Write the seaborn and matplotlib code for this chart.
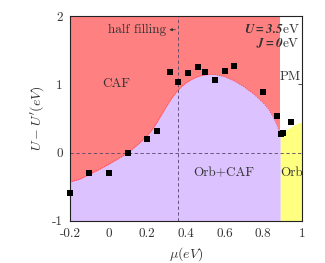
import numpy as np
import pandas as pd
import matplotlib
matplotlib.use("Agg")
import matplotlib.pyplot as plt
import seaborn as sns

# 데이터
mu_pts = [-0.2, -0.1, 0.0, 0.10, 0.20, 0.25, 0.32, 0.36, 0.41, 0.46, 0.50, 0.55, 0.60, 0.65, 0.80, 0.87, 0.89, 0.90, 0.945]
du_pts = [-0.59, -0.30, -0.30, -0.01, 0.20, 0.31, 1.18, 1.04, 1.165, 1.26, 1.18, 1.07, 1.19, 1.27, 0.89, 0.54, 0.27, 0.29, 0.45]

# CAF / Orb+CAF 경계
bound_x = [-0.2, -0.15, -0.1, -0.05, 0.0, 0.05, 0.1, 0.15, 0.175, 0.2, 0.225, 0.25, 0.275, 0.3, 0.325,
           0.35, 0.375, 0.4, 0.425, 0.45, 0.475, 0.5, 0.525, 0.55, 0.6, 0.65, 0.7, 0.75,
           0.8, 0.825, 0.85, 0.87, 0.888]
bound_y = [-0.43, -0.39, -0.32, -0.25, -0.17, -0.09, 0.0, 0.115, 0.18, 0.25, 0.335, 0.44, 0.56, 0.68, 0.79,
           0.885, 0.96, 1.02, 1.065, 1.10, 1.125, 1.14, 1.147, 1.145, 1.115, 1.05, 0.965, 0.86,
           0.73, 0.645, 0.53, 0.41, 0.27]

# Orb / PM 경계
orb_x = [0.888, 0.92, 0.945, 0.97, 1.0]
orb_y = [0.26, 0.33, 0.38, 0.42, 0.45]

half_filling = 0.36

sns.set_style("white")
plt.rcParams['font.family'] = ['cmr10', 'DejaVu Serif']
plt.rcParams['mathtext.fontset'] = 'cm'
plt.rcParams['axes.unicode_minus'] = False

fig = plt.figure(figsize=(3.25, 2.63), dpi=100)
ax = fig.add_axes([0.215, 0.160, 0.714, 0.779])

red = '#ff8080'
purple = '#dcc2ff'
yellow = '#ffff80'

ax.fill_between([-0.2, bound_x[-1]], -1, 2, color=red, lw=0)
ax.fill_between(bound_x, -1, bound_y, color=purple, lw=0)
ax.plot(bound_x, bound_y, color='#ff3355', lw=0.6, ls=':')
ax.fill_between(orb_x, -1, orb_y, color=yellow, lw=0)

ax.axhline(0, color='#554466', lw=0.6, ls=(0, (4, 3)))
ax.axvline(half_filling, color='#554466', lw=0.6, ls=(0, (4, 3)))

df = pd.DataFrame({'mu': mu_pts, 'du': du_pts})
sns.scatterplot(data=df, x='mu', y='du', marker='s', s=16, color='black', edgecolor='black', linewidth=0, ax=ax, clip_on=False, zorder=5)

tc = '#333333'
fs = 9.5
ax.annotate('', xy=(0.30, 1.80), xytext=(half_filling, 1.80),
            arrowprops=dict(arrowstyle='-|>', color=tc, lw=0.6, mutation_scale=4))
ax.text(0.30, 1.80, 'half filling', ha='right', va='center', fontsize=fs, color=tc)
ax.text(0.99, 1.80, r'$\mathbfit{U=3.5}\mathrm{eV}$', ha='right', va='center', fontsize=fs, color=tc)
ax.text(0.99, 1.60, r'$\mathbfit{J=0}\mathrm{eV}$', ha='right', va='center', fontsize=fs, color=tc)
ax.text(0.04, 1.01, 'CAF', ha='center', va='center', fontsize=fs, color=tc)
ax.text(0.886, 1.11, 'PM', ha='left', va='center', fontsize=fs, color=tc)
ax.text(0.595, -0.30, 'Orb+CAF', ha='center', va='center', fontsize=fs, color=tc)
ax.text(0.886, -0.30, 'Orb', ha='left', va='center', fontsize=fs, color=tc)

ax.set_xlim(-0.2, 1.0)
ax.set_ylim(-1, 2)
ax.set_xticks([-0.2, 0, 0.2, 0.4, 0.6, 0.8, 1])
ax.set_xticklabels(['-0.2', '0', '0.2', '0.4', '0.6', '0.8', '1'])
ax.set_yticks([-1, 0, 1, 2])
ax.set_yticklabels(['-1', '0', '1', '2'])
ax.tick_params(direction='in', length=3, width=0.6, labelsize=fs, colors=tc,
               top=True, right=True, pad=5)
ax.set_xlabel(r"$\mu(eV)$", fontsize=10, color=tc)
ax.set_ylabel(r"$U-U'(eV)$", fontsize=10, color=tc)
for s in ax.spines.values():
    s.set_linewidth(0.8)
    s.set_color('#222222')

fig.savefig("out.png", dpi=100)
